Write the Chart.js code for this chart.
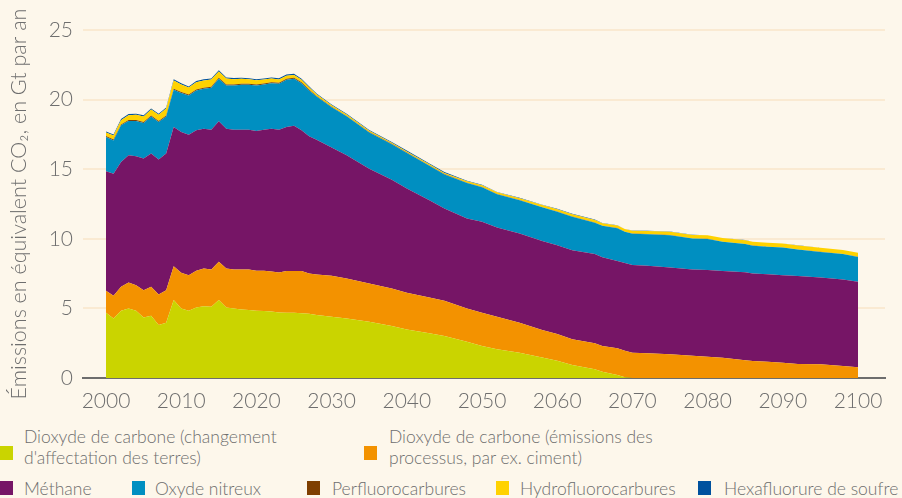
<!DOCTYPE html>
<html><head><meta charset="utf-8">
<script src="https://cdn.jsdelivr.net/npm/chart.js@4.4.1/dist/chart.umd.min.js"></script>
<style>
html,body{margin:0;padding:0;background:#fdf7eb;}
body{width:902px;height:498px;position:relative;overflow:hidden;font-family:Lato,"Open Sans",sans-serif;font-weight:300;color:#6e6e6e;}
#wrap{position:absolute;left:0;top:0;width:902px;height:420px;}
.lg{position:absolute;font-size:17.5px;line-height:21px;white-space:nowrap;color:#6e6e6e;}
.sw{position:absolute;width:13px;height:14px;}
</style></head><body>
<div id="wrap"><canvas id="c" width="902" height="420"></canvas></div>
<div id="legend"></div>
<script>
// ---- data (Gt CO2-eq per year, per layer) ----
const years = [2000,2001,2002,2003,2004,2005,2006,2007,2008,2009,2010,2011,2012,2013,2014,2015,2016,2017,2018,2019,2020,2021,2022,2023,2024,2025,2026,2027,
  2028,2030,2032,2035,2038,2040,2043,2045,2048,2050,2052,2055,2058,2060,2062,2065,2066,2068,2069,2070,2072,2075,2078,2080,2082,2085,2086,2088,2090,2092,2095,2098,2100];
const landUseCO2 = [4.68,4.28,4.83,5.00,4.83,4.35,4.47,3.80,3.97,5.60,5.00,4.83,5.07,5.16,5.12,5.60,5.07,5.00,4.92,4.88,4.83,4.81,4.78,4.71,4.69,4.69,4.66,4.61,
  4.52,4.40,4.28,4.04,3.73,3.49,3.21,3.01,2.60,2.30,2.06,1.82,1.48,1.24,0.93,0.62,0.45,0.21,0.05,0,0,0,0,0,0,0,0,0,0,0,0,0,0];
const processCO2 = [1.59,1.63,1.72,1.86,1.84,1.96,2.08,2.20,2.34,2.43,2.56,2.56,2.63,2.71,2.68,2.75,2.80,2.80,2.88,2.92,2.87,2.89,2.87,2.87,2.99,2.99,3.02,2.90,
  2.92,2.94,2.87,2.75,2.70,2.63,2.58,2.54,2.40,2.39,2.34,2.15,1.96,1.92,1.85,1.87,1.85,1.92,1.91,1.82,1.77,1.70,1.60,1.53,1.46,1.28,1.22,1.17,1.10,1.00,0.98,0.86,0.77];
const methane = [8.58,8.77,8.97,9.14,9.26,9.45,9.57,9.69,9.81,10.00,10.11,10.09,10.09,10.04,10.04,10.09,10.04,10.04,10.04,10.04,10.04,10.14,10.26,10.26,10.35,10.45,10.11,9.85,
  9.68,9.21,8.85,8.25,7.82,7.49,6.98,6.62,6.46,6.53,6.41,6.41,6.41,6.38,6.40,6.41,6.38,6.28,6.31,6.29,6.29,6.24,6.20,6.22,6.22,6.32,6.29,6.29,6.29,6.32,6.24,6.22,6.14];
const nitrousOxide = [2.46,2.39,2.63,2.46,2.53,2.56,2.67,2.70,2.67,2.68,2.80,2.82,2.87,2.87,3.01,3.06,3.11,3.18,3.23,3.23,3.28,3.25,3.27,3.30,3.40,3.37,3.39,3.30,
  3.10,2.90,2.80,2.60,2.54,2.56,2.47,2.45,2.55,2.49,2.39,2.39,2.41,2.41,2.41,2.26,2.25,2.35,2.23,2.26,2.27,2.32,2.22,2.24,2.10,2.02,1.99,1.96,1.98,1.91,1.84,1.82,1.79];
const perfluorocarbons = [0.07,0.07,0.07,0.07,0.07,0.07,0.07,0.07,0.07,0.07,0.07,0.07,0.07,0.07,0.07,0.07,0.07,0.07,0.07,0.07,0.07,0.07,0.07,0.07,0.07,0.07,0.07,0.07,
  0.03,0.03,0.03,0.03,0.03,0.03,0.03,0.03,0.01,0.01,0.01,0.01,0.01,0.01,0.01,0.01,0.01,0.01,0.01,0.01,0.01,0.01,0.01,0.01,0.01,0.01,0.01,0.01,0.01,0.01,0.01,0.01,0.01];
const hydrofluorocarbons = [0.25,0.28,0.30,0.35,0.38,0.40,0.42,0.45,0.50,0.60,0.55,0.50,0.52,0.53,0.52,0.45,0.42,0.38,0.35,0.32,0.30,0.28,0.26,0.24,0.22,0.20,0.17,0.15,
  0.13,0.11,0.10,0.09,0.08,0.08,0.08,0.08,0.12,0.13,0.13,0.14,0.15,0.16,0.17,0.18,0.18,0.19,0.19,0.20,0.22,0.24,0.25,0.25,0.26,0.27,0.27,0.28,0.28,0.28,0.28,0.28,0.28];
const sulfurHexafluoride = [0.08,0.08,0.08,0.08,0.08,0.08,0.08,0.08,0.08,0.08,0.08,0.08,0.08,0.08,0.08,0.08,0.08,0.08,0.08,0.08,0.08,0.08,0.08,0.08,0.08,0.08,0.08,0.08,
  0.06,0.06,0.06,0.06,0.06,0.06,0.06,0.06,0.03,0.03,0.03,0.03,0.03,0.03,0.03,0.03,0.01,0.01,0.01,0.01,0.01,0.01,0.01,0.01,0.01,0.01,0.01,0.01,0.01,0.01,0.01,0.01,0.01];
const seriesNames = ["Dioxyde de carbone (changement\nd'affectation des terres)","Dioxyde de carbone (émissions des\nprocessus, par ex. ciment)","Méthane","Oxyde nitreux","Perfluorocarbures","Hydrofluorocarbures","Hexafluorure de soufre"];
const seriesColors = ["#cad400","#f39200","#761566","#008fc1","#7f3f00","#ffd200","#00519e"];
const xTicks = [2000,2010,2020,2030,2040,2050,2060,2070,2080,2090,2100];
const yTicks = [0,5,10,15,20,25];
const yTitle = "Émissions en équivalent CO₂, en Gt par an";

const seriesValues = [landUseCO2, processCO2, methane, nitrousOxide, perfluorocarbons, hydrofluorocarbons, sulfurHexafluoride];
const gray = "#6e6e6e";
const tickFont = {family:"Lato", size:21, weight:"300"};

new Chart(document.getElementById("c"), {
  type: "line",
  data: {
    datasets: seriesValues.map((vals, i) => ({
      label: seriesNames[i],
      data: years.map((yr, j) => ({x: yr, y: vals[j]})),
      backgroundColor: seriesColors[i],
      borderColor: seriesColors[i],
      borderWidth: 0,
      pointRadius: 0,
      tension: 0,
      fill: i === 0 ? "origin" : "-1"
    }))
  },
  options: {
    responsive: false,
    animation: false,
    devicePixelRatio: 1,
    layout: {padding: {top: 30, right: 17, left: 0, bottom: 0}},
    plugins: {legend: {display: false}, tooltip: {enabled: false}},
    scales: {
      x: {
        type: "linear", min: 1996.94, max: 2103.59,
        afterBuildTicks: s => { s.ticks = xTicks.map(v => ({value: v})); },
        ticks: {callback: v => String(v), color: gray, font: tickFont, padding: 11, maxRotation: 0, autoSkip: false},
        grid: {display: false, drawTicks: false},
        border: {display: true, color: "#6d6d6d", width: 2},
        afterFit: s => { s.height = 42; },
        z: 1
      },
      y: {
        stacked: true, min: 0, max: 25,
        afterBuildTicks: s => { s.ticks = yTicks.map(v => ({value: v})); },
        ticks: {color: gray, font: tickFont, padding: 10},
        grid: {color: "#faead2", lineWidth: 2, drawTicks: false},
        border: {display: false},
        title: {display: true, text: yTitle, color: gray, font: {family: "Lato", size: 21.5, weight: "300"}, padding: {top: 6, bottom: 0}},
        afterFit: s => { s.width = 83; }
      }
    }
  }
});

// ---- HTML legend ----
const legendPos = [
  {sx:0, sy:446, tx:24, ty:426},
  {sx:364, sy:446, tx:389, ty:426},
  {sx:0, sy:481, tx:24, ty:478},
  {sx:132, sy:481, tx:155, ty:478},
  {sx:307, sy:481, tx:332, ty:478},
  {sx:496, sy:481, tx:520, ty:478},
  {sx:698, sy:481, tx:724, ty:478}
];
const lg = document.getElementById("legend");
seriesNames.forEach((name, i) => {
  const p = legendPos[i];
  const sw = document.createElement("div");
  sw.className = "sw"; sw.style.left = p.sx + "px"; sw.style.top = p.sy + "px"; sw.style.background = seriesColors[i];
  const t = document.createElement("div");
  t.className = "lg"; t.style.left = p.tx + "px"; t.style.top = p.ty + "px";
  t.innerHTML = name.split("\n").join("<br>");
  lg.appendChild(sw); lg.appendChild(t);
});
</script>
</body></html>
